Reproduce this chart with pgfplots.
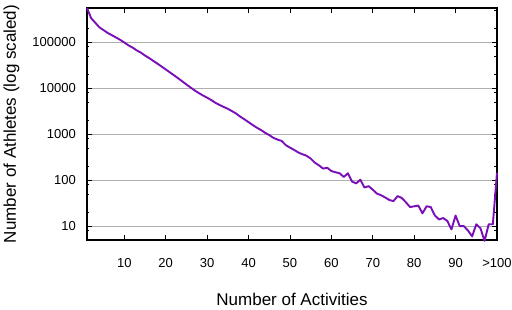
\documentclass[border=0pt]{standalone}
\usepackage{fontspec}
\setmainfont{Liberation Sans}
\usepackage{pgfplots}
\pgfplotsset{compat=1.18}
\definecolor{lineviolet}{RGB}{122,14,184}
\definecolor{gridgray}{RGB}{175,175,175}
\begin{document}
\begin{tikzpicture}
\path[use as bounding box] (-87pt,-69pt) rectangle (425pt,240pt);
\begin{axis}[
  scale only axis,
  width=410pt, height=232pt,
  xmin=1, xmax=100,
  ymode=log, ymin=5, ymax=550000,
  log basis y=10,
  clip=false,
  axis line style={line width=1.1pt, black},
  tick style={black, line width=0.8pt},
  tick align=inside,
  major tick length=5pt,
  minor tick length=2.5pt,
  xtick={10,20,30,40,50,60,70,80,90,100},
  xticklabels={10,20,30,40,50,60,70,80,90,{>100}},
  ytick={10,100,1000,10000,100000},
  yticklabels={10,100,1000,10000,100000},
  minor ytick={8,20,50,80,200,500,800,2000,5000,8000,20000,50000,80000,200000,500000},
  ymajorgrids,
  major grid style={gridgray, line width=0.8pt},
  /pgf/number format/assume math mode=true,
  ticklabel style={font=\fontsize{13pt}{15pt}\selectfont, inner sep=0pt},
  xticklabel style={anchor=north, yshift=-18pt},
  yticklabel style={anchor=east, xshift=-11pt},
  label style={font=\fontsize{17pt}{20pt}\selectfont},
  xlabel={Number of Activities},
  ylabel={Number of Athletes (log scaled)},
  xlabel style={at={(axis description cs:0.5,-0.254)}, anchor=center},
  ylabel style={at={(axis description cs:-0.184,0.5)}, anchor=center},
]
\addplot[lineviolet, line width=1.9pt, line join=round] coordinates {
(1,550000) (2,330000) (3,263000) (4,209000) (5,182000) (6,158000) (7,141000) (8,126000) (9,112000) (10,98000)
(11,85000) (12,76000) (13,66000) (14,59000) (15,51000) (16,45000) (17,39000) (18,34000) (19,29500) (20,25500)
(21,22000) (22,19000) (23,16400) (24,14000) (25,12000) (26,10300) (27,8900) (28,7800) (29,6900) (30,6200)
(31,5500) (32,4800) (33,4300) (34,3900) (35,3550) (36,3160) (37,2800) (38,2400) (39,2100) (40,1820)
(41,1580) (42,1380) (43,1230) (44,1070) (45,955) (46,830) (47,760) (48,710) (49,575) (50,510)
(51,455) (52,400) (53,365) (54,340) (55,295) (56,240) (57,210) (58,178) (59,186) (60,158)
(61,148) (62,141) (63,117) (64,141) (65,93) (66,85) (67,102) (68,69) (69,74) (70,62)
(71,51) (72,47) (73,42) (74,37) (75,35) (76,45) (77,41) (78,33) (79,26) (80,27)
(81,28) (82,19) (83,27) (84,26) (85,17) (86,14) (87,15) (88,13) (89,8.5) (90,17)
(91,10) (92,10) (93,8) (94,6) (95,11) (96,9) (97,4.8) (98,11) (99,11) (100,145)
};
\end{axis}
\end{tikzpicture}
\end{document}
